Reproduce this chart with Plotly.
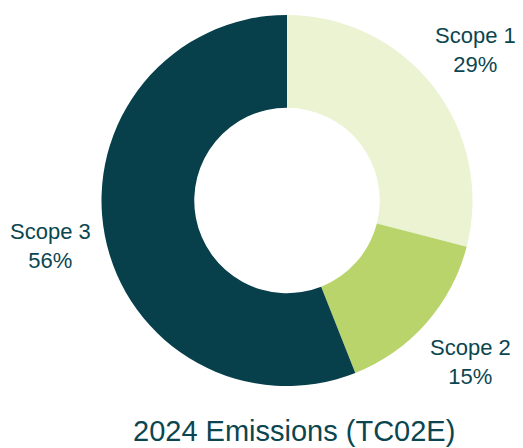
import plotly.graph_objects as go

# Emissions split by scope (percent of total)
scopes = ["Scope 1", "Scope 2", "Scope 3"]
shares = [29, 15, 56]
colors = ["#EBF3D3", "#B9D46B", "#073F4A"]
title_text = "2024 Emissions (TC02E)"

W, H = 523, 448
cx, cy, r = 287, 200.5, 185.5
text_color = "#0B4650"

fig = go.Figure(
    go.Pie(
        labels=scopes,
        values=shares,
        hole=0.5,
        sort=False,
        direction="clockwise",
        rotation=0,
        marker=dict(colors=colors, line=dict(width=0)),
        textinfo="none",
        hoverinfo="label+percent",
        showlegend=False,
        domain=dict(
            x=[(cx - r) / W, (cx + r) / W],
            y=[(H - cy - r) / H, (H - cy + r) / H],
        ),
    )
)

# Outside labels for each slice
label_pos = {"Scope 1": (475, 50), "Scope 2": (470, 362), "Scope 3": (50, 246)}
for name, val in zip(scopes, shares):
    x, y = label_pos[name]
    fig.add_annotation(
        x=x / W, y=1 - y / H, xref="paper", yref="paper",
        text=f"{name}<br>{val}%", showarrow=False,
        font=dict(family="Liberation Sans, Arial", size=22, color=text_color),
        xanchor="center", yanchor="middle", align="center",
    )

fig.add_annotation(
    x=294 / W, y=1 - 431 / H, xref="paper", yref="paper",
    text=title_text, showarrow=False,
    font=dict(family="Liberation Sans, Arial", size=29, color=text_color),
    xanchor="center", yanchor="middle",
)

fig.update_layout(
    width=W, height=H,
    margin=dict(l=0, r=0, t=0, b=0),
    paper_bgcolor="white", plot_bgcolor="white",
)

fig.write_html("out.html")
